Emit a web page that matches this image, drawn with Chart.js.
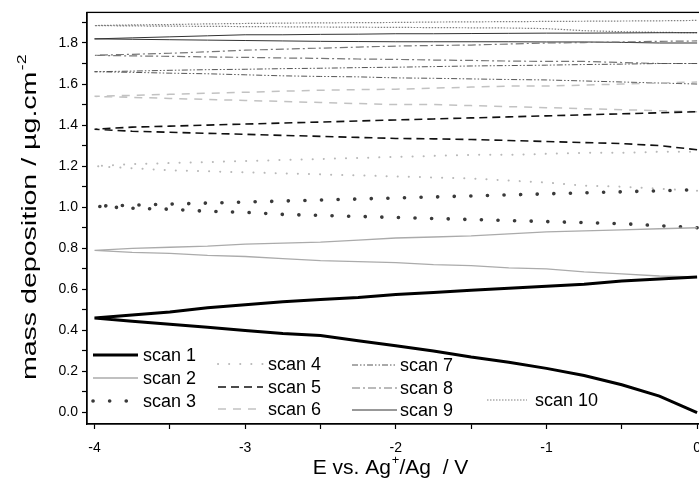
<!DOCTYPE html>
<html>
<head>
<meta charset="utf-8">
<script src="https://cdn.jsdelivr.net/npm/chart.js@4.4.0/dist/chart.umd.min.js"></script>
<style>
  html, body { margin: 0; padding: 0; overflow: hidden; background: #fff; }
  #wrap { width: 712px; height: 484px; }
</style>
</head>
<body>
<div id="wrap"><canvas id="chart" width="712" height="484"></canvas></div>
<script>
// potential steps (V) for the cathodic sweep 0 -> -4, the return sweep is the reverse
const potentialDown = [0, -0.25, -0.5, -0.75, -1, -1.25, -1.5, -1.75, -2, -2.25, -2.5, -2.75, -3, -3.25, -3.5, -3.75, -4];
const potentialUp = potentialDown.slice().reverse();

const scanLabels = ["scan 1", "scan 2", "scan 3", "scan 4", "scan 5", "scan 6", "scan 7", "scan 8", "scan 9", "scan 10"];

// mass deposition (ug/cm2), "Down" follows potentialDown, "Up" follows potentialUp
const scan1Down = [0.00, 0.08, 0.135, 0.18, 0.215, 0.245, 0.27, 0.30, 0.325, 0.35, 0.375, 0.385, 0.40, 0.415, 0.43, 0.445, 0.46];
const scan1Up = [0.46, 0.475, 0.49, 0.51, 0.525, 0.54, 0.55, 0.56, 0.575, 0.585, 0.595, 0.605, 0.615, 0.625, 0.64, 0.65, 0.66];
const scan2Down = [0.66, 0.665, 0.675, 0.685, 0.70, 0.705, 0.715, 0.72, 0.73, 0.735, 0.74, 0.75, 0.76, 0.765, 0.775, 0.78, 0.79];
const scan2Up = [0.79, 0.80, 0.805, 0.81, 0.82, 0.825, 0.83, 0.84, 0.85, 0.855, 0.86, 0.87, 0.88, 0.885, 0.89, 0.895, 0.90];
const scan3Down = [0.90, 0.91, 0.92, 0.925, 0.93, 0.935, 0.94, 0.945, 0.95, 0.955, 0.96, 0.965, 0.975, 0.98, 0.99, 0.995, 1.005];
const scan3Up = [1.005, 1.01, 1.015, 1.02, 1.025, 1.03, 1.035, 1.04, 1.045, 1.05, 1.055, 1.06, 1.065, 1.07, 1.075, 1.08, 1.085];
const scan4Down = [1.08, 1.09, 1.10, 1.105, 1.12, 1.13, 1.14, 1.145, 1.15, 1.155, 1.16, 1.165, 1.17, 1.175, 1.18, 1.19, 1.20];
const scan4Up = [1.20, 1.21, 1.215, 1.22, 1.225, 1.23, 1.235, 1.24, 1.245, 1.25, 1.255, 1.255, 1.26, 1.265, 1.265, 1.27, 1.27];
const scan5Down = [1.28, 1.30, 1.31, 1.315, 1.32, 1.325, 1.33, 1.333, 1.335, 1.34, 1.345, 1.35, 1.355, 1.36, 1.365, 1.37, 1.38];
const scan5Up = [1.38, 1.39, 1.395, 1.40, 1.405, 1.41, 1.415, 1.42, 1.425, 1.43, 1.435, 1.44, 1.445, 1.45, 1.455, 1.46, 1.465];
const scan6Down = [1.465, 1.47, 1.475, 1.48, 1.485, 1.49, 1.495, 1.50, 1.50, 1.505, 1.51, 1.515, 1.52, 1.525, 1.53, 1.535, 1.54];
const scan6Up = [1.54, 1.545, 1.55, 1.555, 1.56, 1.565, 1.57, 1.573, 1.575, 1.58, 1.585, 1.59, 1.59, 1.595, 1.60, 1.605, 1.61];
const scan7Down = [1.60, 1.605, 1.61, 1.615, 1.62, 1.622, 1.625, 1.628, 1.63, 1.635, 1.637, 1.64, 1.645, 1.65, 1.653, 1.657, 1.66];
const scan7Up = [1.66, 1.663, 1.667, 1.67, 1.672, 1.675, 1.677, 1.68, 1.682, 1.685, 1.688, 1.69, 1.692, 1.695, 1.697, 1.70, 1.70];
const scan8Down = [1.70, 1.70, 1.705, 1.71, 1.71, 1.712, 1.715, 1.717, 1.72, 1.722, 1.725, 1.727, 1.73, 1.732, 1.735, 1.737, 1.74];
const scan8Up = [1.74, 1.745, 1.75, 1.757, 1.765, 1.77, 1.775, 1.78, 1.785, 1.788, 1.79, 1.795, 1.80, 1.802, 1.805, 1.808, 1.81];
const scan9Down = [1.80, 1.80, 1.803, 1.805, 1.805, 1.806, 1.806, 1.806, 1.806, 1.807, 1.808, 1.81, 1.812, 1.814, 1.816, 1.818, 1.82];
const scan9Up = [1.82, 1.825, 1.83, 1.835, 1.84, 1.84, 1.842, 1.843, 1.845, 1.845, 1.846, 1.847, 1.848, 1.848, 1.849, 1.85, 1.85];
const scan10Down = [1.85, 1.852, 1.855, 1.86, 1.87, 1.873, 1.874, 1.875, 1.876, 1.877, 1.878, 1.879, 1.88, 1.881, 1.882, 1.883, 1.885];
const scan10Up = [1.885, 1.888, 1.89, 1.893, 1.895, 1.897, 1.898, 1.899, 1.90, 1.902, 1.903, 1.904, 1.905, 1.906, 1.907, 1.908, 1.91];

const xTickLabels = ["-4", "-3", "-2", "-1", "0"];
const yTickLabels = ["0.0", "0.2", "0.4", "0.6", "0.8", "1.0", "1.2", "1.4", "1.6", "1.8"];

const scansDown = [scan1Down, scan2Down, scan3Down, scan4Down, scan5Down, scan6Down, scan7Down, scan8Down, scan9Down, scan10Down];
const scansUp = [scan1Up, scan2Up, scan3Up, scan4Up, scan5Up, scan6Up, scan7Up, scan8Up, scan9Up, scan10Up];

// line styles per scan
const lineStyles = [
  { color: "#000000", width: 3, dash: [], cap: "butt" },
  { color: "#ababab", width: 1.3, dash: [], cap: "butt" },
  { color: "#3a3a3a", width: 3.6, dash: [0.1, 16.5], cap: "round" },
  { color: "#b8b8b8", width: 2, dash: [0.1, 11], cap: "round" },
  { color: "#111111", width: 1.6, dash: [8, 5], cap: "butt" },
  { color: "#c2c2c2", width: 1.5, dash: [8, 7], cap: "butt" },
  { color: "#555555", width: 1, dash: [6, 2, 1.5, 2, 1.5, 2], cap: "butt" },
  { color: "#777777", width: 1.2, dash: [8, 3, 2, 3], cap: "butt" },
  { color: "#333333", width: 1, dash: [], cap: "butt" },
  { color: "#808080", width: 1.2, dash: [1.5, 1.5], cap: "butt" },
];

// legend placement (sample line start/end, text x)
const legendSlots = [
  { x1: 93, x2: 138, y: 355, tx: 143 },
  { x1: 93, x2: 138, y: 378, tx: 143 },
  { x1: 93, x2: 138, y: 401, tx: 143 },
  { x1: 218, x2: 263, y: 364, tx: 268 },
  { x1: 218, x2: 263, y: 387, tx: 268 },
  { x1: 218, x2: 263, y: 409, tx: 268 },
  { x1: 352, x2: 397, y: 365, tx: 400 },
  { x1: 352, x2: 397, y: 388, tx: 400 },
  { x1: 352, x2: 397, y: 410, tx: 400 },
  { x1: 487, x2: 527, y: 400, tx: 535 },
];

const FONT = "'Liberation Sans', Arial, sans-serif";

const datasets = scanLabels.map((label, i) => {
  const pts = [];
  potentialDown.forEach((x, j) => pts.push({ x: x, y: scansDown[i][j] }));
  potentialUp.forEach((x, j) => pts.push({ x: x, y: scansUp[i][j] }));
  const st = lineStyles[i];
  return {
    label: label,
    data: pts,
    showLine: true,
    borderColor: st.color,
    backgroundColor: st.color,
    borderWidth: st.width,
    borderDash: st.dash,
    borderCapStyle: st.cap,
    pointRadius: 0,
    tension: 0,
    fill: false,
  };
});

// frame + legend + axis titles (with superscripts)
const extras = {
  id: "extras",
  afterDraw(chart) {
    const ctx = chart.ctx;
    const a = chart.chartArea;
    ctx.save();
    ctx.strokeStyle = "#000";
    ctx.lineWidth = 1.3;
    ctx.strokeRect(a.left, a.top, a.right - a.left, a.bottom - a.top);

    // legend
    ctx.font = "18px " + FONT;
    ctx.textBaseline = "middle";
    ctx.fillStyle = "#000";
    legendSlots.forEach((s, i) => {
      const st = lineStyles[i];
      ctx.beginPath();
      ctx.strokeStyle = st.color;
      ctx.lineWidth = st.width;
      ctx.lineCap = st.cap;
      ctx.setLineDash(st.dash);
      ctx.moveTo(s.x1, s.y);
      ctx.lineTo(s.x2, s.y);
      ctx.stroke();
      ctx.setLineDash([]);
      ctx.fillText(scanLabels[i], s.tx, s.y + 1);
    });

    // x title
    drawParts(ctx, [["E vs. Ag", 0], ["+", 1], ["/Ag  / V", 0]], 390, 468);

    // y title (stretched along its length like the original)
    ctx.translate(30, 218);
    ctx.rotate(-Math.PI / 2);
    ctx.scale(1.36, 1);
    drawParts(ctx, [["mass deposition / \u00b5g.cm", 0], ["-2", 1]], 0, 0);
    ctx.restore();
  },
};

function drawParts(ctx, parts, cx, cy) {
  const big = "21px " + FONT, small = "13px " + FONT;
  let total = 0;
  parts.forEach((p) => {
    ctx.font = p[1] ? small : big;
    total += ctx.measureText(p[0]).width;
  });
  let x = cx - total / 2;
  ctx.textBaseline = "middle";
  ctx.textAlign = "left";
  ctx.fillStyle = "#000";
  parts.forEach((p) => {
    ctx.font = p[1] ? small : big;
    ctx.fillText(p[0], x, p[1] ? cy - 8 : cy);
    x += ctx.measureText(p[0]).width + (p[1] ? 0 : 1);
  });
}

new Chart(document.getElementById("chart"), {
  type: "scatter",
  data: { datasets: datasets },
  options: {
    responsive: false,
    animation: false,
    devicePixelRatio: 1,
    layout: { padding: { top: 11, right: 2, left: 0, bottom: 0 } },
    plugins: { legend: { display: false }, tooltip: { enabled: false } },
    scales: {
      x: {
        type: "linear",
        min: -4.05,
        max: 0.05,
        afterFit: (scale) => { scale.height = 60; },
        border: { display: true, color: "#000", width: 1.3 },
        grid: { display: true, drawOnChartArea: false, drawTicks: true, tickLength: 5, color: "#000", tickWidth: 1.2 },
        ticks: {
          stepSize: 0.5,
          includeBounds: false,
          autoSkip: false,
          maxRotation: 0,
          padding: 11,
          color: "#000",
          font: { family: FONT, size: 14 },
          callback: (v) => {
            const s = String(Math.round(v * 2) / 2);
            return xTickLabels.includes(s) ? s : "";
          },
        },
      },
      y: {
        type: "linear",
        min: -0.056,
        max: 1.949,
        afterFit: (scale) => { scale.width = 87; },
        border: { display: true, color: "#000", width: 1.3 },
        grid: { display: true, drawOnChartArea: false, drawTicks: true, tickLength: 5, color: "#000", tickWidth: 1.2 },
        ticks: {
          stepSize: 0.1,
          includeBounds: false,
          autoSkip: false,
          padding: 4,
          color: "#000",
          font: { family: FONT, size: 14 },
          callback: (v) => {
            const s = v.toFixed(1);
            return yTickLabels.includes(s) ? s : "";
          },
        },
      },
    },
  },
  plugins: [extras],
});
</script>
</body>
</html>
